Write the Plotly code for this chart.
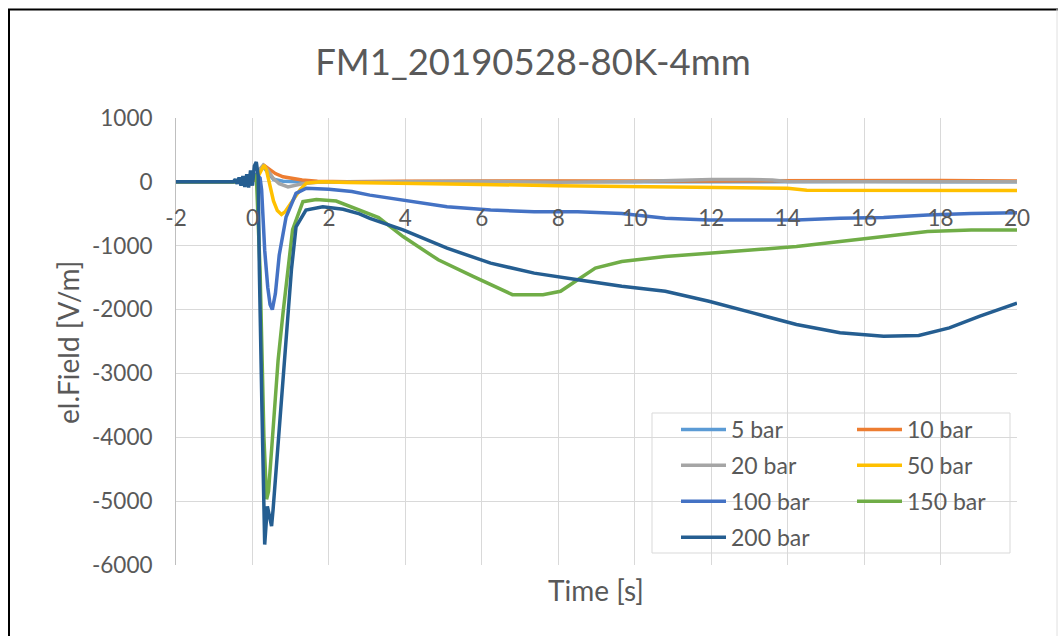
import plotly.graph_objects as go

# ---------------- data ----------------
series_names = ["5 bar", "10 bar", "20 bar", "50 bar", "100 bar", "150 bar", "200 bar"]
series_colors = ["#5B9BD5", "#ED7D31", "#A5A5A5", "#FFC000", "#4472C4", "#70AD47", "#255E91"]

t5 = [-2, -0.2, 0.1, 0.2, 0.28, 0.4, 0.55, 0.8, 1.2, 2, 4, 6, 8, 10, 12, 14, 16, 18, 20]
v5 = [0, 0, 40, 180, 240, 150, 40, 10, 0, 0, 5, 0, 5, 0, 5, 0, 5, 0, 0]

t10 = [-2, -0.2, 0.1, 0.2, 0.3, 0.45, 0.6, 0.8, 1.0, 1.3, 1.7, 2.5, 4, 6, 8, 10, 12, 14, 16, 18, 20]
v10 = [0, 0, 40, 200, 260, 200, 130, 80, 55, 30, 10, 0, 10, 15, 10, 15, 15, 20, 20, 20, 15]

t20 = [-2, -0.2, 0.1, 0.2, 0.28, 0.4, 0.55, 0.7, 0.93, 1.3, 1.7, 2.5, 4, 6, 8, 10, 11, 12, 13, 13.6, 14, 16, 18, 20]
v20 = [0, 0, 40, 200, 260, 180, 50, -30, -78, -30, -5, 0, 0, 5, -5, 5, 25, 35, 35, 30, 5, 5, 0, 0]

t50 = [-2, -0.2, 0.1, 0.2, 0.3, 0.36, 0.45, 0.55, 0.65, 0.76, 0.85, 0.95, 1.1, 1.25, 1.41, 1.8, 2.5,
       4, 6, 8, 10, 12, 14, 14.5, 16, 18, 20]
v50 = [0, 0, 30, 150, 260, 200, -50, -300, -450, -510, -470, -380, -260, -120, -20, 0, -10,
       -20, -40, -60, -75, -95, -100, -130, -130, -135, -135]

t100 = [-2, -0.2, 0.1, 0.2, 0.24, 0.32, 0.4, 0.46, 0.52, 0.6, 0.7, 0.88, 1.14, 1.41, 2.0, 2.6, 3.07,
        3.94, 5.09, 6.23, 7.37, 8.51, 9.66, 10.8, 11.94, 13.09, 14.23, 15.37, 16.51, 17.66, 18.8, 20]
v100 = [0, 0, 120, 60, -125, -1070, -1650, -1920, -2000, -1750, -1150, -550, -180, -100, -115, -150, -208,
        -286, -390, -442, -468, -468, -494, -571, -597, -597, -597, -571, -560, -519, -494, -483]

t150 = [-2, -0.2, 0.0, 0.1, 0.2, 0.3, 0.37, 0.42, 0.5, 0.67, 0.8, 0.93, 1.05, 1.32, 1.67, 2.19, 2.8, 3.3,
        3.94, 4.86, 5.77, 6.8, 7.6, 8.06, 8.51, 8.97, 9.66, 10.8, 11.94, 13.09, 14.23, 15.37, 16.51,
        17.66, 18.8, 20]
v150 = [0, 0, 30, 120, -1400, -4000, -4970, -4850, -4200, -2800, -2050, -1375, -750, -310, -276, -300, -442, -560,
        -857, -1221, -1481, -1766, -1766, -1714, -1532, -1351, -1247, -1169, -1117, -1065, -1013, -935, -857,
        -779, -753, -753]

t200 = [-2, -0.5, -0.45, -0.4, -0.35, -0.3, -0.25, -0.2, -0.15, -0.1, -0.05, 0.0, 0.05, 0.1, 0.15,
        0.18, 0.25, 0.32, 0.39, 0.45, 0.5, 0.54, 0.76, 1.02, 1.14, 1.4, 1.84, 2.37, 2.8, 3.07,
        3.94, 5.09, 6.23, 7.37, 8.51, 9.66, 10.8, 11.94, 13.09, 14.23, 15.37, 16.51, 17.43, 18.23, 19.03, 20]
v200 = [0, 0, 40, -30, 70, -60, 90, -80, 120, -90, 180, -60, 250, 310, 100,
        -1375, -3600, -5680, -5080, -5250, -5390, -5130, -3450, -1375, -703, -443, -391, -430, -500, -573,
        -753, -1039, -1273, -1429, -1532, -1636, -1714, -1870, -2052, -2234, -2364, -2416, -2405, -2286, -2104, -1900]

times = [t5, t10, t20, t50, t100, t150, t200]
values = [v5, v10, v20, v50, v100, v150, v200]
legend_of = ["legend", "legend2", "legend", "legend2", "legend", "legend2", "legend"]

x_ticks = [-2, 0, 2, 4, 6, 8, 10, 12, 14, 16, 18, 20]
x_labels = ["-2", "0", "2", "4", "6", "8", "10", "12", "14", "16", "18", "20"]
y_ticks = [1000, 0, -1000, -2000, -3000, -4000, -5000, -6000]
y_labels = ["1000", "0", "-1000", "-2000", "-3000", "-4000", "-5000", "-6000"]

title_text = "FM1_20190528-80K-4mm"
x_title = "Time [s]"
y_title = "el.Field [V/m]"

# ---------------- layout geometry ----------------
W, H = 1059, 636
PL, PR, PT, PB = 176, 1017, 118, 565
XMIN, XMAX, YMIN, YMAX = -2, 20, -6000, 1000


def fx(p):
    return (p - PL) / (PR - PL)


def fy(p):
    return (PB - p) / (PB - PT)


FONT = "Lato"
GRAY = "#595959"
GRID = "#D9D9D9"

fig = go.Figure()
for name, col, t, v, lg in zip(series_names, series_colors, times, values, legend_of):
    fig.add_trace(go.Scatter(x=t, y=v, mode="lines", name=name, legend=lg, legendgroup=name,
                             line=dict(color=col, width=3.5)))

leg_font = dict(size=23, color=GRAY, family=FONT)
fig.update_layout(
    width=W, height=H,
    margin=dict(l=PL, r=W - PR, t=PT, b=H - PB),
    paper_bgcolor="white", plot_bgcolor="white",
    font=dict(family=FONT, color=GRAY, size=22),
    title=dict(text=title_text, x=533 / W, y=1 - 62 / H, xref="container", yref="container",
               xanchor="center", yanchor="middle", font=dict(size=36.5, color=GRAY, family=FONT)),
    xaxis=dict(range=[XMIN, XMAX], tickmode="array", tickvals=x_ticks, ticktext=x_labels,
               showgrid=True, gridcolor=GRID, gridwidth=1, zeroline=False, showline=False,
               anchor="free", position=(0 - YMIN) / (YMAX - YMIN),
               ticks="", ticklabelstandoff=21, tickfont=dict(size=22.5, color=GRAY, family=FONT)),
    yaxis=dict(range=[YMIN, YMAX], tickmode="array", tickvals=y_ticks, ticktext=y_labels,
               showgrid=True, gridcolor=GRID, gridwidth=1, zeroline=False,
               showline=True, linecolor="#BFBFBF", linewidth=1,
               ticks="", ticklabelstandoff=18, tickfont=dict(size=22.5, color=GRAY, family=FONT)),
    legend=dict(x=fx(676), y=fy(408), xanchor="left", yanchor="top", bgcolor="rgba(0,0,0,0)",
                borderwidth=0, font=leg_font, tracegroupgap=3, itemwidth=45),
    legend2=dict(x=fx(852), y=fy(408), xanchor="left", yanchor="top", bgcolor="rgba(0,0,0,0)",
                 borderwidth=0, font=leg_font, tracegroupgap=3, itemwidth=45),
    showlegend=True,
)

# axis titles
fig.add_annotation(text=x_title, x=fx(596), y=fy(590), xref="paper", yref="paper",
                   showarrow=False, font=dict(size=28, color=GRAY, family=FONT),
                   xanchor="center", yanchor="middle")
fig.add_annotation(text=y_title, x=fx(68), y=fy(343), xref="paper", yref="paper",
                   showarrow=False, textangle=-90, font=dict(size=28, color=GRAY, family=FONT),
                   xanchor="center", yanchor="middle")

# legend box
fig.add_shape(type="rect", xref="paper", yref="paper", x0=fx(652), x1=fx(1010), y0=fy(553), y1=fy(413),
              line=dict(color=GRID, width=1), fillcolor="white", layer="between")

# outer frame
fig.add_shape(type="line", xref="paper", yref="paper", x0=fx(8), x1=fx(1058), y0=fy(9.5), y1=fy(9.5),
              line=dict(color="black", width=2))
fig.add_shape(type="line", xref="paper", yref="paper", x0=fx(9), x1=fx(9), y0=fy(9), y1=fy(640),
              line=dict(color="black", width=2))
fig.add_shape(type="line", xref="paper", yref="paper", x0=fx(1057), x1=fx(1057), y0=fy(9), y1=fy(640),
              line=dict(color="#E0E0E0", width=1))

fig.write_html("out.html", config={"displayModeBar": False},
               post_script="document.body.style.margin='0';")
